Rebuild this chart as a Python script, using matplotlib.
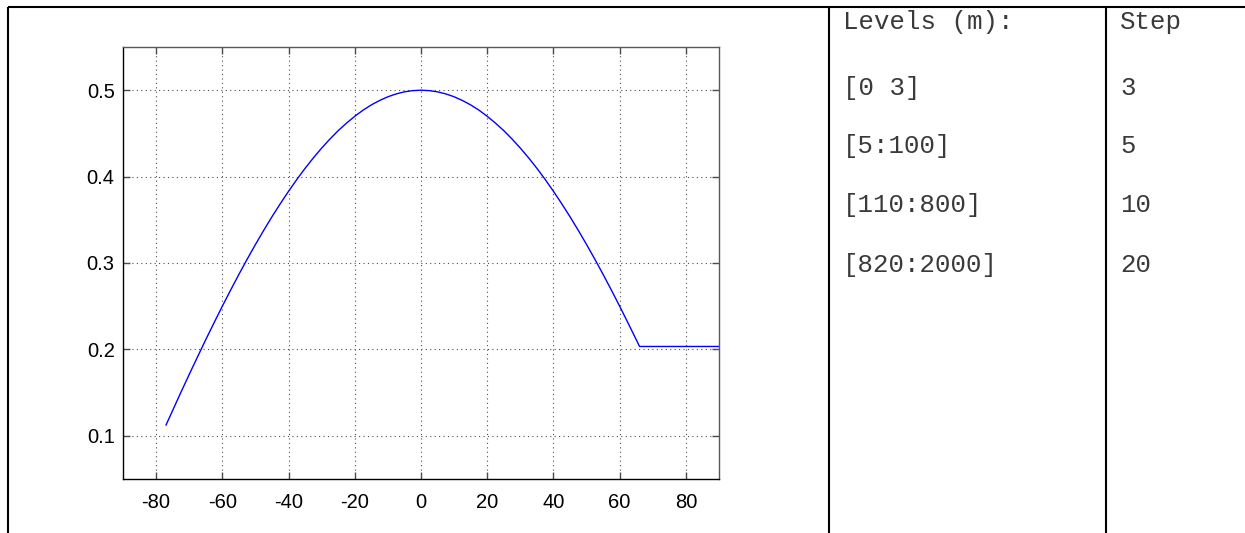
import matplotlib
matplotlib.use("Agg")
import matplotlib.pyplot as plt
from matplotlib.lines import Line2D

# ---- data ----
lat = [-77, -75, -72.5, -70, -67.5, -65, -62.5, -60, -57.5, -55, -52.5, -50, -47.5, -45,
       -42.5, -40, -37.5, -35, -32.5, -30, -27.5, -25, -22.5, -20, -17.5, -15, -12.5, -10,
       -7.5, -5, -2.5, 0, 2.5, 5, 7.5, 10, 12.5, 15, 17.5, 20, 22.5, 25, 27.5, 30, 32.5,
       35, 37.5, 40, 42.5, 45, 47.5, 50, 52.5, 55, 57.5, 60, 62.5, 65, 66, 90]
value = [0.1125, 0.1294, 0.1504, 0.1710, 0.1913, 0.2113, 0.2308, 0.2500, 0.2686, 0.2868,
         0.3044, 0.3214, 0.3378, 0.3536, 0.3686, 0.3830, 0.3967, 0.4096, 0.4217, 0.4330,
         0.4435, 0.4532, 0.4619, 0.4698, 0.4769, 0.4830, 0.4881, 0.4924, 0.4957, 0.4981,
         0.4995, 0.5000, 0.4995, 0.4981, 0.4957, 0.4924, 0.4881, 0.4830, 0.4769, 0.4698,
         0.4619, 0.4532, 0.4435, 0.4330, 0.4217, 0.4096, 0.3967, 0.3830, 0.3686, 0.3536,
         0.3378, 0.3214, 0.3044, 0.2868, 0.2686, 0.2500, 0.2308, 0.2113, 0.2034, 0.2034]
xticks = [-80, -60, -40, -20, 0, 20, 40, 60, 80]
yticks = [0.1, 0.2, 0.3, 0.4, 0.5]
levels_header = "Levels (m):"
levels = ["[0 3]", "[5:100]", "[110:800]", "[820:2000]"]
step_header = "Step"
steps = ["3", "5", "10", "20"]

W, H = 1245, 533
fig = plt.figure(figsize=(W / 100, H / 100), dpi=100)
fig.patch.set_facecolor("white")

def fx(px):
    return px / W

def fy(py):
    return 1 - py / H

# table borders
lw_b = 1.5
for (x0, y0, x1, y1) in [(8, 7, W, 7), (8, 7, 8, H), (829, 7, 829, H), (1106, 7, 1106, H)]:
    fig.add_artist(Line2D([fx(x0), fx(x1)], [fy(y0), fy(y1)], color="black",
                          linewidth=lw_b, transform=fig.transFigure, solid_capstyle="butt"))

# plot
ax = fig.add_axes([fx(123), fy(479), fx(719) - fx(123), fy(47) - fy(479)])
ax.plot(lat, value, color="#0000ff", linewidth=1.0)
ax.set_xlim(-90, 90)
ax.set_ylim(0.05, 0.55)
ax.set_xticks(xticks)
ax.set_yticks(yticks)
ax.set_xticklabels([str(t) for t in xticks], fontfamily="Liberation Sans", fontsize=14.5)
ax.set_yticklabels([f"{t:.1f}" for t in yticks], fontfamily="Liberation Sans", fontsize=14.5)
ax.grid(True, color="0.3", linestyle=(0, (1, 3)), linewidth=0.8)
ax.tick_params(direction="in", length=5, width=1, top=True, right=True,
               colors="0.3", labelcolor="black")
ax.tick_params(axis="x", pad=10)
ax.tick_params(axis="y", pad=6)
for s in ["left", "bottom"]:
    ax.spines[s].set_color("black")
for s in ["top", "right"]:
    ax.spines[s].set_color("0.35")
for s in ax.spines.values():
    s.set_linewidth(1.0)

# text columns
mono = dict(fontfamily="Liberation Mono", fontsize=18.5, color="#3a3a3a",
            va="baseline", ha="left")
baselines = [95, 153, 212, 272]
fig.text(fx(843), fy(29), levels_header, **mono)
fig.text(fx(1120), fy(29), step_header, **mono)
for lv, st, b in zip(levels, steps, baselines):
    fig.text(fx(843), fy(b), lv, **mono)
    fig.text(fx(1120), fy(b), st, **mono)

fig.savefig("out.png", dpi=100, facecolor="white")
